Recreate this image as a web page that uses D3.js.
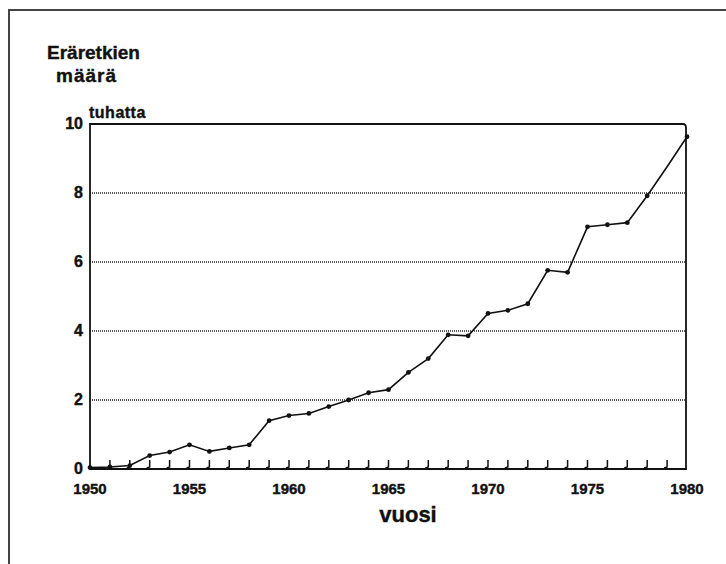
<!DOCTYPE html>
<html>
<head>
<meta charset="utf-8">
<script src="https://cdn.jsdelivr.net/npm/d3@7"></script>
<style>
  body { margin: 0; background: #fff; }
  svg text { font-family: "Liberation Sans", Arial, sans-serif; font-weight: bold; fill: #111; stroke: #111; stroke-width: 0.4; }
</style>
</head>
<body>
<div id="chart"></div>
<script>
// data (thousands of trips per year)
const years = [1950, 1951, 1952, 1953, 1954, 1955, 1956, 1957, 1958, 1959,
               1960, 1961, 1962, 1963, 1964, 1965, 1966, 1967, 1968, 1969,
               1970, 1971, 1972, 1973, 1974, 1975, 1976, 1977, 1978, 1979, 1980];
const trips = [0.04, 0.06, 0.1, 0.39, 0.49, 0.7, 0.51, 0.61, 0.7, 1.4,
               1.55, 1.61, 1.81, 2.0, 2.21, 2.3, 2.8, 3.2, 3.89, 3.86,
               4.51, 4.6, 4.79, 5.76, 5.7, 7.02, 7.08, 7.14, 7.92, 8.76, 9.63];
const unmarkedYears = [1979];
const yTicks = [0, 2, 4, 6, 8, 10];
const xLabels = [1950, 1955, 1960, 1965, 1970, 1975, 1980];
const gridValues = [2, 4, 6, 8];

const width = 726, height = 564;
const plot = { left: 90, right: 687, top: 124, bottom: 469 };

const svg = d3.select("#chart").append("svg")
    .attr("width", width)
    .attr("height", height);

// outer frame (top and left edges only)
svg.append("path")
    .attr("d", `M9,564 L9,10 L726,10`)
    .attr("fill", "none")
    .attr("stroke", "#444")
    .attr("stroke-width", 2);

const x = d3.scaleLinear().domain([1950, 1980]).range([plot.left, plot.right]);
const y = d3.scaleLinear().domain([0, 10]).range([plot.bottom, plot.top]);

// dotted grid
svg.append("g").selectAll("line")
    .data(gridValues)
    .join("line")
    .attr("x1", plot.left)
    .attr("x2", x(1980) - 1)
    .attr("y1", d => y(d))
    .attr("y2", d => y(d))
    .attr("stroke", "#222")
    .attr("stroke-width", 1.4)
    .attr("stroke-dasharray", "1,1");

// plot frame
svg.append("path")
    .attr("d", `M${plot.left},${plot.bottom} L${plot.left},${plot.top} L${x(1980) - 4},${plot.top} Q${x(1980) - 1},${plot.top} ${x(1980) - 1},${plot.top + 4} L${x(1980) - 1},${plot.bottom} Z`)
    .attr("fill", "none")
    .attr("stroke", "#111")
    .attr("stroke-width", 1.8);

// year ticks pointing up, with a little hook at the foot
svg.append("g").selectAll("path")
    .data(years.slice(1, -1))
    .join("path")
    .attr("d", d => `M${x(d) - 3},${plot.bottom - 1} L${x(d)},${plot.bottom - 2} L${x(d)},${plot.bottom - 9}`)
    .attr("fill", "none")
    .attr("stroke", "#111")
    .attr("stroke-width", 1.5);

// y labels
svg.append("g").selectAll("text")
    .data(yTicks)
    .join("text")
    .attr("x", 83)
    .attr("y", d => y(d) + 5)
    .attr("text-anchor", "end")
    .attr("font-size", 16)
    .text(d => d);

// x labels
svg.append("g").selectAll("text")
    .data(xLabels)
    .join("text")
    .attr("x", d => x(d))
    .attr("y", 494)
    .attr("text-anchor", "middle")
    .attr("font-size", 15)
    .text(d => d);

// titles
svg.append("text").attr("x", 47).attr("y", 59).attr("font-size", 19).text("Eräretkien");
svg.append("text").attr("x", 56).attr("y", 82).attr("font-size", 19)
    .attr("letter-spacing", 1).text("määrä");
svg.append("text").attr("x", 89).attr("y", 118).attr("font-size", 16)
    .attr("letter-spacing", 0.5).text("tuhatta");
svg.append("text").attr("x", 408).attr("y", 522).attr("text-anchor", "middle")
    .attr("font-size", 22).text("vuosi");

// series line
const series = years.map((yr, i) => ({ year: yr, value: trips[i] }));
const line = d3.line().x(d => x(d.year)).y(d => y(d.value));

svg.append("path")
    .datum(series)
    .attr("d", line)
    .attr("fill", "none")
    .attr("stroke", "#111")
    .attr("stroke-width", 1.6);

svg.append("g").selectAll("circle")
    .data(series.filter(d => !unmarkedYears.includes(d.year)))
    .join("circle")
    .attr("cx", d => x(d.year))
    .attr("cy", d => y(d.value))
    .attr("r", 2.4)
    .attr("fill", "#111");
</script>
</body>
</html>
